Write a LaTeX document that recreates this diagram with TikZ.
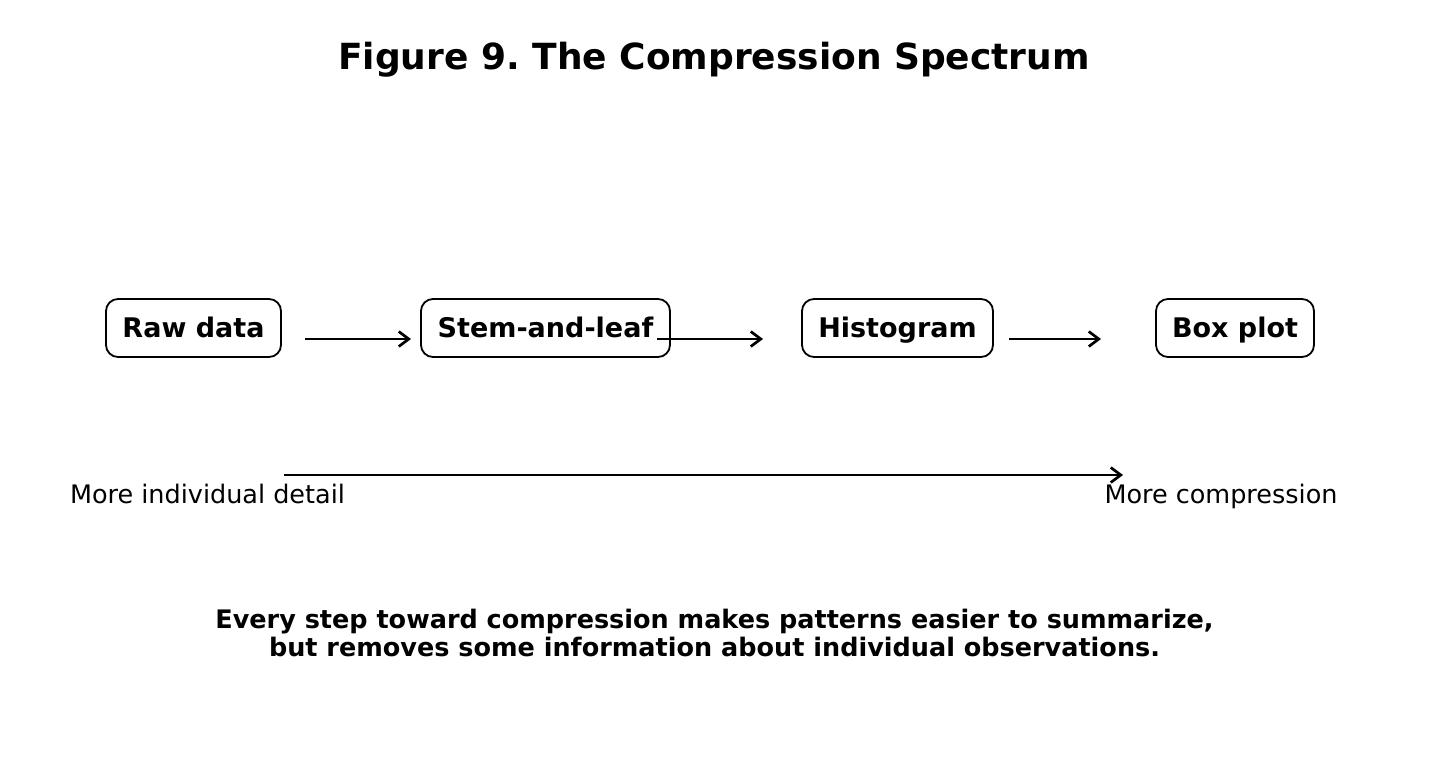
\documentclass[tikz,border=0pt]{standalone}
\usepackage{fontspec}
\setmainfont{DejaVu Sans}
\usetikzlibrary{arrows.meta}
\frenchspacing
\begin{document}
\begin{tikzpicture}[x=1pt,y=-1pt,
  stagebox/.style={draw,line width=1.8pt,rounded corners=12pt,minimum height=58pt,inner sep=0pt,text height=20pt,text depth=2pt,font=\fontsize{27}{30}\selectfont\bfseries},
  flow/.style={line width=2.7pt,-{Straight Barb[length=10pt,width=15pt,line width=2.7pt]}},
  sidelabel/.style={anchor=base,font=\fontsize{25.5}{28}\selectfont},
]
\useasboundingbox (0,0) rectangle (1429,779);
\node[anchor=base,font=\fontsize{36}{42}\selectfont\bfseries] (title) at (714,69) {Figure 9. The Compression Spectrum};
\node[stagebox,minimum width=175pt] (raw) at (193.5,328) {Raw data};
\node[stagebox,minimum width=249pt] (stem) at (545.5,328) {Stem-and-leaf};
\node[stagebox,minimum width=191pt] (hist) at (897.5,328) {Histogram};
\node[stagebox,minimum width=158pt] (box) at (1235,328) {Box plot};
\coordinate (a1s) at (305,339); \coordinate (a1e) at (411,339);
\coordinate (a2s) at (657,339); \coordinate (a2e) at (763,339);
\coordinate (a3s) at (1009,339); \coordinate (a3e) at (1101,339);
\draw[flow] (a1s) -- (a1e);
\draw[flow] (a2s) -- (a2e);
\draw[flow] (a3s) -- (a3e);
\coordinate (bs) at (284,475); \coordinate (be) at (1123,475);
\draw[flow] (bs) -- (be);
\node[sidelabel] (left) at (207.5,503) {More individual detail};
\node[sidelabel] (right) at (1221,503) {More compression};
\node[font=\fontsize{25.5}{28}\selectfont\bfseries,align=center] (foot) at (714.5,633) {Every step toward compression makes patterns easier to summarize,\\but removes some information about individual observations.};
\end{tikzpicture}
\end{document}
